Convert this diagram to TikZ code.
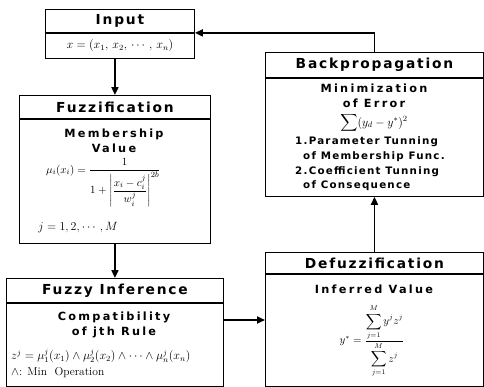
\documentclass[tikz,border=0pt]{standalone}
\usepackage{fontspec}
\usepackage{amsmath}
\newfontfamily\headfont[LetterSpace=13]{DejaVu Sans}
\newfontfamily\labelfont[LetterSpace=20]{DejaVu Sans}
\newfontfamily\itemfont[LetterSpace=12]{DejaVu Sans}
\usetikzlibrary{arrows.meta}

\tikzset{
  titlebox/.style={draw, line width=0.9pt, inner sep=0pt, anchor=north west,
    font=\headfont\bfseries\fontsize{13.8}{16}\selectfont},
  bodybox/.style={draw, line width=0.9pt, inner sep=0pt, anchor=north},
  bodytext/.style={font=\labelfont\bfseries\fontsize{11.3}{15}\selectfont, align=center},
  itemtext/.style={font=\itemfont\bfseries\fontsize{10.3}{13}\selectfont, anchor=west, inner sep=0pt},
  eqn/.style={font=\fontsize{11.5}{14}\selectfont, inner sep=0pt},
  flow/.style={line width=1.8pt, -{Triangle[length=8pt,width=7pt]}}
}

\begin{document}
\begin{tikzpicture}[x=1pt,y=-1pt]
  \useasboundingbox (0,0) rectangle (484,386);
  % input block
  \node[titlebox, minimum width=149, minimum height=23] (inputT) at (45,9) {Input};
  \node[bodybox, minimum width=149, minimum height=25] (inputB) at (inputT.south) {};
  \node[eqn] (inputX) at (inputB) {$x=(x_1,\,x_2,\,\cdots,\,x_n)$};
  % fuzzification block
  \node[titlebox, minimum width=191, minimum height=23] (fuzzT) at (19,95) {Fuzzification};
  \node[bodybox, minimum width=191, minimum height=124] (fuzzB) at (fuzzT.south) {};
  \node[bodytext] (fuzzL) at (114,141) {Membership\\Value};
  \node[eqn, anchor=west, font=\fontsize{11}{13}\selectfont] (fuzzF) at (46,183)
    {$\mu_i(x_i)=\dfrac{1}{1+\left|\dfrac{x_i-c_i^j}{w_i^j}\right|^{2b}}$};
  \node[eqn, anchor=west] (fuzzJ) at (38,228) {$j=1,2,\cdots,M$};
  % fuzzy inference block
  \node[titlebox, minimum width=217, minimum height=24] (infT) at (6,278) {Fuzzy Inference};
  \node[bodybox, minimum width=217, minimum height=83] (infB) at (infT.south) {};
  \node[bodytext] (infL) at (114,325) {Compatibility\\of jth Rule};
  \node[eqn, anchor=west] (infF) at (11,356)
    {$z^j=\mu_1^j(x_1)\wedge\mu_2^j(x_2)\wedge\cdots\wedge\mu_n^j(x_n)$};
  \node[eqn, anchor=west] (infM) at (11,373) {$\wedge$: Min\ \ Operation};
  % backpropagation block
  \node[titlebox, minimum width=218, minimum height=25] (backT) at (265,52) {Backpropagation};
  \node[bodybox, minimum width=218, minimum height=118] (backB) at (backT.south) {};
  \node[bodytext] (backL) at (374,96) {Minimization\\of Error};
  \node[eqn] (backF) at (374,123) {$\displaystyle\sum(y_d-y^*)^2$};
  \node[itemtext] (backA) at (295,142) {1.Parameter Tunning};
  \node[itemtext] (backB1) at (303,157) {of Membership Func.};
  \node[itemtext] (backC) at (295,172) {2.Coefficient Tunning};
  \node[itemtext] (backD) at (303,186) {of Consequence};
  % defuzzification block
  \node[titlebox, minimum width=218, minimum height=21] (defT) at (265,252) {Defuzzification};
  \node[bodybox, minimum width=218, minimum height=112] (defB) at (defT.south) {};
  \node[bodytext] (defL) at (374,289) {Inferred Value};
  \node[eqn, font=\fontsize{10.5}{13}\selectfont] (defF) at (372,341)
    {$y^*=\dfrac{\displaystyle\sum_{j=1}^{M}y^jz^j}{\displaystyle\sum_{j=1}^{M}z^j}$};
  % connectors
  \draw[flow] (fuzzT.north |- inputB.south) -- (fuzzT.north);
  \draw[flow] (fuzzB.south) -- (infT.north);
  \coordinate (infOut) at (infB.east |- 0,320);
  \draw[flow] (infOut) -- (infOut -| defB.west);
  \draw[flow] (defT.north) -- (backB.south);
  \draw[flow] (backT.north) |- (inputT.south east);
\end{tikzpicture}
\end{document}
